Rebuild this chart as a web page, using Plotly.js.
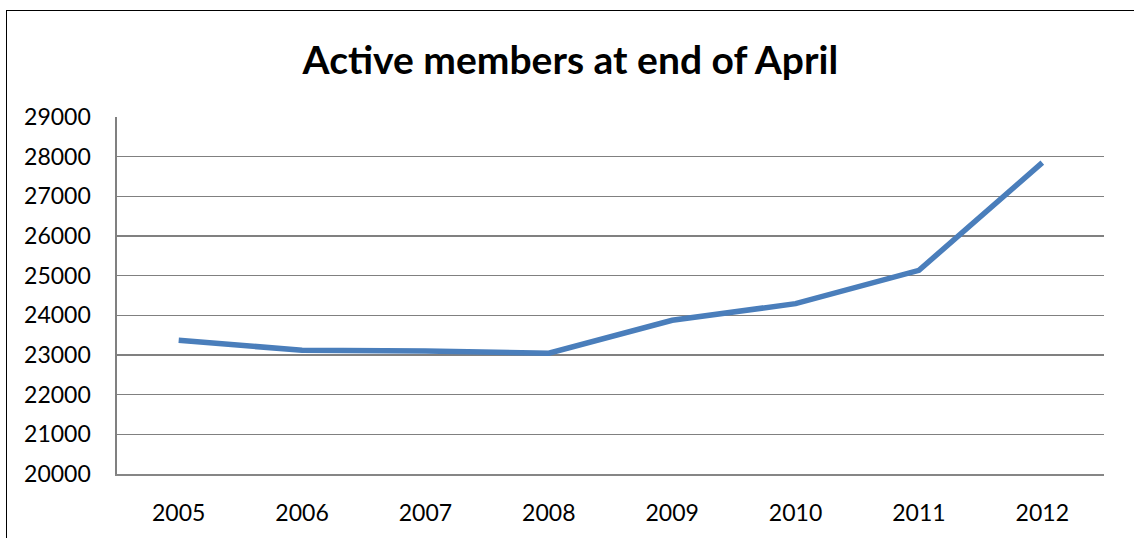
<!DOCTYPE html>
<html>
<head>
<meta charset="utf-8">
<script src="https://cdn.plot.ly/plotly-3.0.1.min.js"></script>
<style>
  html, body { margin: 0; padding: 0; background: #ffffff; }
  #wrap { position: relative; width: 1134px; height: 538px; overflow: hidden; }
  #chart { width: 1134px; height: 538px; }
  #frame { position: absolute; left: 6px; top: 10px; width: 1200px; height: 600px;
           border-left: 1px solid #000; border-top: 1px solid #000; pointer-events: none; }
</style>
</head>
<body>
<div id="wrap">
  <div id="chart"></div>
  <div id="frame"></div>
</div>
<script>
const years = ['2005', '2006', '2007', '2008', '2009', '2010', '2011', '2012'];
const activeMembers = [23370, 23120, 23100, 23045, 23875, 24295, 25135, 27850];
const yTicks = [20000, 21000, 22000, 23000, 24000, 25000, 26000, 27000, 28000, 29000];
const chartTitle = 'Active members at end of April';

const trace = {
  type: 'scatter',
  mode: 'lines',
  x: years,
  y: activeMembers,
  line: { color: '#4a7ebb', width: 5.5, shape: 'linear' },
  hoverinfo: 'x+y'
};

const layout = {
  width: 1134,
  height: 538,
  margin: { l: 117, r: 30, t: 117, b: 64, pad: 0 },
  paper_bgcolor: '#ffffff',
  plot_bgcolor: '#ffffff',
  showlegend: false,
  font: { family: 'Lato, "Open Sans", sans-serif', size: 23, color: '#000000' },
  title: {
    text: chartTitle,
    font: { family: 'Lato, "Open Sans", sans-serif', size: 39, color: '#000000', weight: 'bold' },
    xref: 'container', x: 0.503, xanchor: 'center',
    yref: 'container', y: 1 - 60 / 538, yanchor: 'middle'
  },
  xaxis: {
    type: 'category',
    range: [-0.5, 7.5],
    showgrid: false,
    zeroline: false,
    showline: true,
    linecolor: '#868686',
    linewidth: 1.5,
    ticks: '',
    ticklabelstandoff: 18,
    tickfont: { size: 23 },
    fixedrange: true
  },
  yaxis: {
    range: [20000, 29000],
    tickvals: yTicks,
    ticktext: yTicks.map(String),
    showgrid: true,
    gridcolor: '#808080',
    gridwidth: 1.6,
    zeroline: false,
    showline: true,
    linecolor: '#808080',
    linewidth: 1.6,
    ticks: '',
    ticklabelstandoff: 20,
    tickfont: { size: 23 },
    fixedrange: true
  }
};

Plotly.newPlot('chart', [trace], layout, { displayModeBar: false, staticPlot: true });
</script>
</body>
</html>
